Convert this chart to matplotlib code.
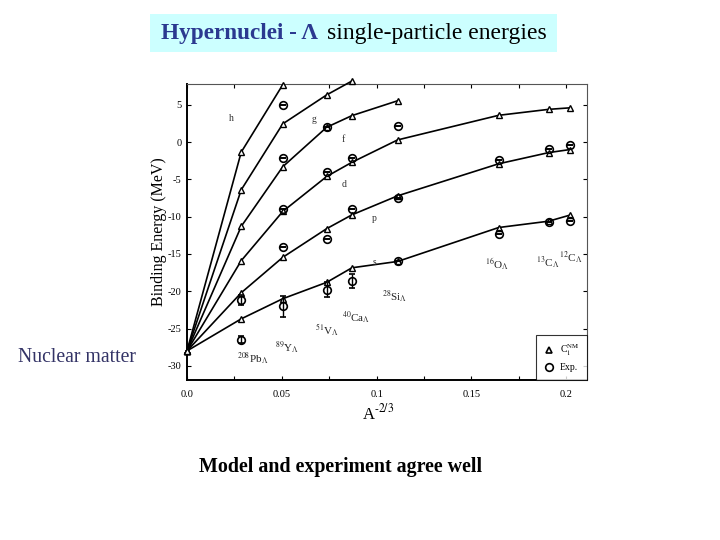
import matplotlib
matplotlib.use("Agg")
import matplotlib.pyplot as plt
from matplotlib.patches import Rectangle
from matplotlib.lines import Line2D
import numpy as np

plt.rcParams['font.family'] = ['Liberation Serif', 'DejaVu Serif']
plt.rcParams['mathtext.fontset'] = 'stix'

# x positions (A^-2/3) of nuclei: nuclear matter, Pb, Y, V, Ca, Si, O, 13C, 12C
x_nuclei = [0.0, 0.0286, 0.0505, 0.0737, 0.0870, 0.1111, 0.1644, 0.1908, 0.2018]

# model (triangles) single-particle energies per shell
model_s = [-28.0, -23.7, -21.0, -18.8, -16.85, -16.0, -11.45, -10.6, -9.8]
model_p = [-28.0, -20.2, -15.45, -11.6, -9.75, -7.2, -2.9, -1.4, -1.0]
model_d = [-28.0, -15.9, -9.3, -4.6, -2.7, 0.3, 3.6, 4.4, 4.6]
model_f = [-28.0, -11.3, -3.3, 2.0, 3.56, 5.55]
model_g = [-28.0, -6.4, 2.45, 6.34, 8.2]
model_h = [-28.0, -1.34, 7.7]
shell_names = ['s', 'p', 'd', 'f', 'g', 'h']
shell_label_x = [0.099, 0.099, 0.083, 0.0823, 0.0668, 0.0235]
shell_label_y = [-16.2, -10.2, -5.7, 0.3, 3.0, 3.2]

# experimental (circles)
exp_x = [0.0286, 0.0286,
         0.0505, 0.0505, 0.0505, 0.0505, 0.0505,
         0.0737, 0.0737, 0.0737, 0.0737,
         0.0870, 0.0870, 0.0870,
         0.1111, 0.1111, 0.1111,
         0.1644, 0.1644,
         0.1908, 0.1908,
         0.2018, 0.2018]
exp_y = [-26.5, -21.2,
         -22.0, -14.1, -8.95, -2.06, 5.0,
         -19.8, -13.0, -4.0, 2.0,
         -18.6, -8.95, -2.07,
         -16.0, -7.45, 2.2,
         -12.3, -2.4,
         -10.75, -0.95,
         -10.6, -0.4]
exp_err = [0.5, 0.7,
           1.4, 0, 0, 0, 0,
           1.0, 0, 0, 0,
           0.9, 0, 0,
           0, 0, 0,
           0, 0,
           0, 0,
           0, 0]

nuc_labels = [r"$^{208}$Pb$_\Lambda$", r"$^{89}$Y$_\Lambda$", r"$^{51}$V$_\Lambda$",
              r"$^{40}$Ca$_\Lambda$", r"$^{28}$Si$_\Lambda$", r"$^{16}$O$_\Lambda$",
              r"$^{13}$C$_\Lambda$", r"$^{12}$C$_\Lambda$"]
nuc_label_x = [0.0265, 0.0465, 0.0675, 0.082, 0.103, 0.157, 0.184, 0.196]
nuc_label_y = [-29.0, -27.6, -25.3, -23.6, -20.7, -16.5, -16.05, -15.4]

x_ticks = [0.0, 0.05, 0.1, 0.15, 0.2]
x_tick_labels = ['0.0', '0.05', '0.1', '0.15', '0.2']
y_ticks = [5, 0, -5, -10, -15, -20, -25, -30]

fig = plt.figure(figsize=(7.2, 5.4), dpi=100)
fig.patch.set_facecolor('white')

# title box
fig.patches.append(Rectangle((150/720, 1-52/540), 407/720, 38/540,
                             transform=fig.transFigure, facecolor='#ccffff',
                             edgecolor='none', zorder=0))
fig.text(161/720, 1-34/540, "Hypernuclei - Λ", fontsize=16.7, fontweight='bold',
         color='#2b3990', ha='left', va='center')
fig.text(327/720, 1-34/540, "single-particle energies", fontsize=17,
         color='black', ha='left', va='center')

fig.text(18/720, 1-357/540, "Nuclear matter", fontsize=14.2, color='#333366',
         ha='left', va='center')
fig.text(341/720, 1-467/540, "Model and experiment agree well", fontsize=14.4,
         fontweight='bold', color='black', ha='center', va='center')

ax = fig.add_axes([187/720, 1-380/540, 400/720, 296/540])
ax.set_xlim(0.0, 0.211)
ax.set_ylim(-31.9, 7.8)

models = [model_s, model_p, model_d, model_f, model_g, model_h]
for vals in models:
    ax.plot(x_nuclei[:len(vals)], vals, color='black', lw=1.2, marker='^',
            markersize=5, markerfacecolor='white', markeredgecolor='black',
            markeredgewidth=1.0, clip_on=False, zorder=3)

ax.errorbar(exp_x, exp_y, yerr=exp_err, fmt='o', markersize=5.5,
            markerfacecolor='none', markeredgecolor='black', markeredgewidth=1.2,
            ecolor='black', elinewidth=1.0, capsize=2, zorder=4, clip_on=False)

for name, lx, ly in zip(shell_names, shell_label_x, shell_label_y):
    ax.text(lx, ly, name, fontsize=7, ha='center', va='center', color='#333333')

for lab, lx, ly in zip(nuc_labels, nuc_label_x, nuc_label_y):
    ax.text(lx, ly, lab, fontsize=8, ha='left', va='center', color='#222222')

ax.set_xticks(x_ticks)
ax.set_xticklabels(x_tick_labels)
ax.set_xticks(np.arange(0.025, 0.21, 0.05), minor=True)
ax.set_yticks(y_ticks)
ax.set_yticklabels([str(v) for v in y_ticks])
ax.tick_params(axis='both', which='both', direction='in', top=True, right=True,
               labelsize=7.5, length=3, width=0.8)
ax.tick_params(axis='x', pad=7)
ax.tick_params(axis='y', pad=4)

for side in ['left', 'bottom']:
    ax.spines[side].set_linewidth(1.4)
for side in ['top', 'right']:
    ax.spines[side].set_linewidth(0.8)
    ax.spines[side].set_color('#555555')

ax.set_xlabel(r"A$^{\text{-2/3}}$", fontsize=12)
ax.xaxis.set_label_coords((378-187)/400, -(403-380)/296)
ax.set_ylabel("Binding Energy (MeV)", fontsize=11.5)
ax.yaxis.set_label_coords(-(187-167)/400, 0.5)

handles = [Line2D([], [], linestyle='none', marker='^', markersize=5,
                  markerfacecolor='white', markeredgecolor='black', markeredgewidth=1.2),
           Line2D([], [], linestyle='none', marker='o', markersize=5.5,
                  markerfacecolor='white', markeredgecolor='black', markeredgewidth=1.2)]
leg = ax.legend(handles, [r"C$_1^{\rm NM}$", "Exp."], loc='lower right',
                fontsize=7, frameon=True, fancybox=False, borderaxespad=0,
                handlelength=1.0, handletextpad=0.6, borderpad=0.8,
                labelspacing=0.5)
leg.get_frame().set_edgecolor('black')
leg.get_frame().set_linewidth(0.8)

fig.savefig("out.png", dpi=100)
